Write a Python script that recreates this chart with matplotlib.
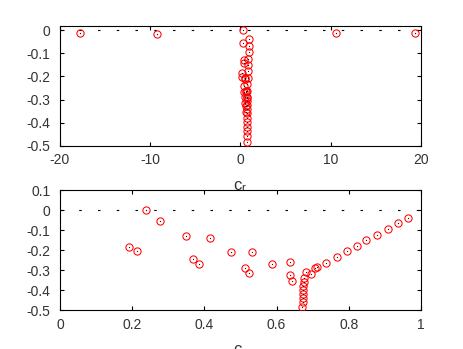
import matplotlib
matplotlib.use("Agg")
import matplotlib.pyplot as plt

plt.rcParams['font.family'] = ['Liberation Sans', 'DejaVu Sans']
plt.rcParams['mathtext.fontset'] = 'custom'
plt.rcParams['mathtext.rm'] = 'Liberation Sans'
plt.rcParams['mathtext.it'] = 'Liberation Sans'
plt.rcParams['lines.scale_dashes'] = False

# eigenvalues: real phase speed c_r and growth rate lambda_r
cluster_c = [0.191, 0.213, 0.238, 0.278, 0.349, 0.369, 0.385, 0.416, 0.475,
             0.512, 0.523, 0.531, 0.587, 0.636, 0.636, 0.642,
             0.676, 0.675, 0.674, 0.673, 0.673, 0.672, 0.672, 0.671,
             0.681, 0.694, 0.707, 0.713, 0.738, 0.766, 0.794, 0.822,
             0.849, 0.879, 0.908, 0.937, 0.965]
cluster_lam = [-0.187, -0.203, 0.000, -0.055, -0.128, -0.243, -0.268, -0.142, -0.212,
               -0.288, -0.317, -0.208, -0.268, -0.262, -0.327, -0.355,
               -0.342, -0.360, -0.378, -0.398, -0.418, -0.438, -0.458, -0.483,
               -0.308, -0.322, -0.292, -0.287, -0.263, -0.233, -0.207, -0.178,
               -0.150, -0.123, -0.094, -0.067, -0.038]
outlier_c = [-17.8, -9.3, 10.6, 19.3]
outlier_lam = [-0.013, -0.016, -0.013, -0.012]

top_xticks = [-20, -10, 0, 10, 20]
top_yticks = [0, -0.1, -0.2, -0.3, -0.4, -0.5]
top_yticklabels = ['0', '-0.1', '-0.2', '-0.3', '-0.4', '-0.5']
bot_xticks = [0, 0.2, 0.4, 0.6, 0.8, 1]
bot_xticklabels = ['0', '0.2', '0.4', '0.6', '0.8', '1']
bot_yticks = [0.1, 0, -0.1, -0.2, -0.3, -0.4, -0.5]
bot_yticklabels = ['0.1', '0', '-0.1', '-0.2', '-0.3', '-0.4', '-0.5']

W, H = 464, 349
fig = plt.figure(figsize=(W / 100, H / 100), dpi=100)
ax1 = fig.add_axes([60 / W, 1 - 145.7 / H, 361 / W, 119.4 / H])
ax2 = fig.add_axes([60 / W, 1 - 310 / H, 361 / W, 120 / H])

label_color = '#333333'
FS = 10

def style(ax):
    for s in ax.spines.values():
        s.set_linewidth(0.8)
        s.set_color('black')
    ax.tick_params(direction='in', length=3, width=0.8, top=True, right=True,
                   labelsize=FS, labelcolor=label_color, pad=5.5)
    ax.tick_params(axis='y', pad=7)

def draw(ax, xs, ys):
    ax.axhline(0, color='black', lw=0.8, dashes=(1.8, 11.7), zorder=1)
    ax.plot(xs, ys, linestyle='none', marker='o', ms=5.2, mfc='none',
            mec='red', mew=0.75, zorder=3)
    ax.plot(xs, ys, linestyle='none', marker='o', ms=0.9, mfc='#400000',
            mec='none', zorder=4)

all_c = outlier_c[:2] + cluster_c + outlier_c[2:]
all_lam = outlier_lam[:2] + cluster_lam + outlier_lam[2:]
draw(ax1, all_c, all_lam)
ax1.set_xlim(-20, 20)
ax1.set_ylim(-0.5, 0.017)
ax1.set_xticks(top_xticks)
ax1.set_xticklabels([str(t) for t in top_xticks])
ax1.set_yticks(top_yticks)
ax1.set_yticklabels(top_yticklabels)
style(ax1)

draw(ax2, cluster_c, cluster_lam)
ax2.set_xlim(0, 1)
ax2.set_ylim(-0.5, 0.1)
ax2.set_xticks(bot_xticks)
ax2.set_xticklabels(bot_xticklabels)
ax2.set_yticks(bot_yticks)
ax2.set_yticklabels(bot_yticklabels)
style(ax2)

for ax in (ax1, ax2):
    ax.set_xlabel('c$_r$', fontsize=12, color=label_color)
    ax.set_ylabel('λ$_r$', fontsize=12, color=label_color)
    ax.xaxis.set_label_coords(0.5, -0.28)
    ax.yaxis.set_label_coords(-0.155, 0.5)

fig.savefig('out.png', dpi=100)
